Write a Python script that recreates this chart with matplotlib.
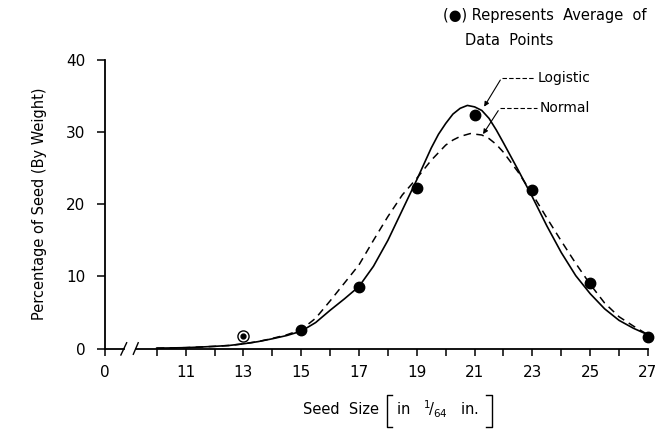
import matplotlib
matplotlib.use("Agg")
import matplotlib.pyplot as plt
from matplotlib.lines import Line2D

# ── data ─────────────────────────────────────────────────────────────────────
sizes = [13, 15, 17, 19, 21, 23, 25, 27]
avg_pct = [1.8, 2.5, 8.5, 22.2, 32.4, 22.0, 9.1, 1.6]

logistic_x = [10, 10.5, 11, 11.5, 12, 12.5, 13, 13.5, 14, 14.5, 15, 15.5, 16,
              16.5, 17, 17.5, 18, 18.5, 19, 19.5, 19.75, 20, 20.25, 20.5, 20.75,
              21, 21.25, 21.5, 21.75, 22, 22.5, 23, 23.5, 24, 24.5, 25, 25.5,
              26, 26.5, 27]
logistic_y = [0.05, 0.08, 0.12, 0.2, 0.3, 0.42, 0.65, 0.95, 1.35, 1.8, 2.4, 3.6,
              5.3, 6.9, 8.6, 11.4, 15.0, 19.2, 23.4, 27.8, 29.7, 31.2, 32.5,
              33.3, 33.7, 33.5, 33.0, 31.9, 30.3, 28.5, 24.8, 21.0, 17.0, 13.3,
              10.1, 7.6, 5.5, 3.9, 2.8, 1.9]

normal_x = [10, 11, 12, 12.5, 13, 13.5, 14, 14.5, 15, 15.5, 16, 16.5, 17, 17.5,
            18, 18.5, 19, 19.5, 20, 20.25, 20.5, 20.85, 21.25, 21.5, 21.75, 22,
            22.5, 23, 23.5, 24, 24.5, 25, 25.5, 26, 26.5, 27]
normal_y = [0.05, 0.12, 0.3, 0.42, 0.65, 0.95, 1.4, 1.9, 2.6, 4.2, 6.6, 9.1,
            11.6, 15.0, 18.3, 21.3, 23.6, 26.1, 28.2, 28.9, 29.4, 29.8, 29.6,
            29.1, 28.3, 27.2, 24.5, 21.4, 18.1, 14.9, 11.8, 8.9, 6.3, 4.4, 3.1,
            1.9]

ZERO_POS = 8.21          # where the "0" of the broken x axis sits
major_ticks = [ZERO_POS, 11, 13, 15, 17, 19, 21, 23, 25, 27]
major_labels = ["0", "11", "13", "15", "17", "19", "21", "23", "25", "27"]
minor_ticks = [10, 12, 14, 16, 18, 20, 22, 24, 26]
y_ticks = [0, 10, 20, 30, 40]

plt.rcParams["font.family"] = ["DejaVu Sans"]
plt.rcParams["mathtext.fontset"] = "dejavusans"
plt.rcParams["mathtext.default"] = "regular"

fig = plt.figure(figsize=(6.67, 4.30), dpi=100)
ax = fig.add_axes([0.1574, 0.1895, 0.8141, 0.671])

ax.plot(logistic_x, logistic_y, color="black", lw=1.2, clip_on=False,
        solid_joinstyle="round")
ax.plot(normal_x, normal_y, color="black", lw=1.1, ls=(0, (5, 3.5)), clip_on=False)

# averages: first one drawn as ringed dot, the rest solid
ax.plot(sizes[1:], avg_pct[1:], "o", color="black", ms=7.5, clip_on=False, zorder=5)
ax.plot(sizes[:1], avg_pct[:1], "o", mfc="white", mec="black", mew=1.0, ms=8,
        clip_on=False, zorder=5)
ax.plot(sizes[:1], avg_pct[:1], "o", color="black", ms=3.5, clip_on=False, zorder=6)

ax.set_xlim(ZERO_POS, 27)
ax.set_ylim(0, 40)

# broken x axis drawn by hand
for side in ("top", "right", "bottom"):
    ax.spines[side].set_visible(False)
ax.spines["left"].set_linewidth(1.3)
ax.plot([ZERO_POS, 8.87], [0, 0], color="black", lw=1.3, clip_on=False)
ax.plot([9.3, 27], [0, 0], color="black", lw=1.3, clip_on=False)
ax.plot([8.76, 8.96], [-0.9, 0.8], color="black", lw=1.0, clip_on=False)
ax.plot([9.19, 9.36], [-0.8, 0.8], color="black", lw=1.0, clip_on=False)

ax.set_xticks(major_ticks)
ax.set_xticklabels(major_labels)
ax.set_xticks(minor_ticks, minor=True)
ax.set_yticks(y_ticks)
ax.tick_params(axis="x", which="both", direction="out", length=5, width=1.1,
               pad=7, labelsize=11)
ax.tick_params(axis="y", direction="out", length=6, width=1.1, pad=8, labelsize=11)

ax.set_ylabel("Percentage of Seed (By Weight)", fontsize=10.5, labelpad=14)

# x label with tall thin brackets
fig.text(0.454, 0.047, "Seed  Size", fontsize=10.5, va="center", ha="left")
fig.text(0.594, 0.047, r"in   ${}^{1}\!/_{64}$   in.", fontsize=10.5,
         va="center", ha="left")
for xs in ([0.588, 0.580, 0.580, 0.588], [0.729, 0.737, 0.737, 0.729]):
    fig.add_artist(Line2D(xs, [0.081, 0.081, 0.008, 0.008], color="black", lw=1.0))

# curve call-outs
ax.plot([21.94, 23.1], [37.55, 37.55], color="black", lw=0.8, ls=(0, (4, 2)))
ax.annotate("", xy=(21.28, 33.2), xytext=(21.94, 37.55),
            arrowprops=dict(arrowstyle="-|>", color="black", lw=0.8,
                            mutation_scale=7))
ax.text(23.18, 37.55, "Logistic", fontsize=10, va="center", ha="left")

ax.plot([21.87, 23.15], [33.3, 33.3], color="black", lw=0.8, ls=(0, (4, 2)))
ax.annotate("", xy=(21.24, 29.4), xytext=(21.87, 33.3),
            arrowprops=dict(arrowstyle="-|>", color="black", lw=0.8,
                            mutation_scale=7))
ax.text(23.25, 33.3, "Normal", fontsize=10, va="center", ha="left")

fig.text(0.664, 0.965, "(\u25CF) Represents  Average  of", fontsize=10.5,
         va="center", ha="left")
fig.text(0.697, 0.905, "Data  Points", fontsize=10.5, va="center", ha="left")

fig.savefig("out.png", dpi=100)
